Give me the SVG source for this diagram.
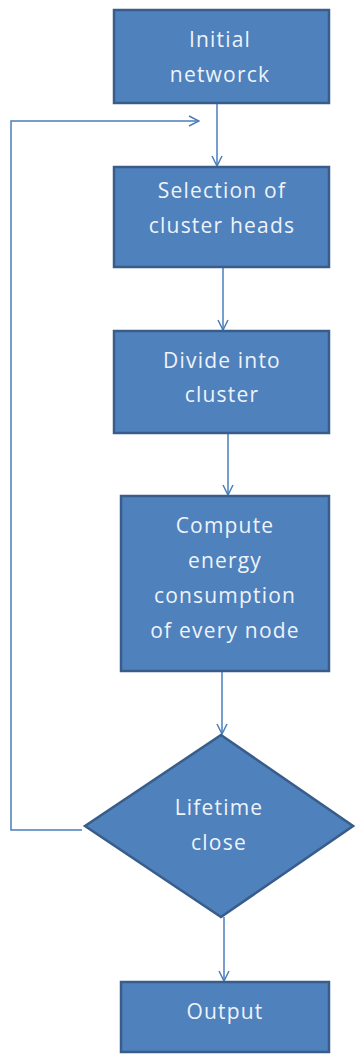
<svg xmlns="http://www.w3.org/2000/svg" width="355" height="1055" viewBox="0 0 355 1055">
<style>
.node{fill:#4F81BD;stroke:#385D8A;stroke-width:2.5}
.lbl{font-family:"Open Sans","Liberation Sans",sans-serif;font-size:21px;fill:#EEF3FA;text-anchor:middle;letter-spacing:1.2px}
.conn{fill:none;stroke:#4A7EBB;stroke-width:1.5}
</style>
<defs>
<marker id="arr" viewBox="0 0 12 12" refX="11" refY="6" markerWidth="12" markerHeight="12" markerUnits="userSpaceOnUse" orient="auto">
<path d="M1,1 L11,6 L1,11" fill="none" stroke="#4A7EBB" stroke-width="1.5"/>
</marker>
</defs>
<g id="connectors">
<line class="conn" x1="217" y1="103" x2="217" y2="166" marker-end="url(#arr)"/>
<line class="conn" x1="223" y1="267" x2="223" y2="330" marker-end="url(#arr)"/>
<line class="conn" x1="228" y1="433" x2="228" y2="495" marker-end="url(#arr)"/>
<line class="conn" x1="222" y1="671" x2="222" y2="734" marker-end="url(#arr)"/>
<line class="conn" x1="224" y1="917" x2="224" y2="981" marker-end="url(#arr)"/>
<polyline class="conn" points="82,830 11,830 11,121 199,121" marker-end="url(#arr)"/>
</g>
<g id="initial">
<rect class="node" x="114" y="10" width="215" height="93"/>
<text class="lbl" x="220" y="47">Initial</text>
<text class="lbl" x="220" y="82">networck</text>
</g>
<g id="selection">
<rect class="node" x="114" y="167" width="215" height="100"/>
<text class="lbl" x="222" y="198">Selection of</text>
<text class="lbl" x="222" y="233">cluster heads</text>
</g>
<g id="divide">
<rect class="node" x="114" y="331" width="215" height="102"/>
<text class="lbl" x="222" y="368">Divide into</text>
<text class="lbl" x="222" y="402">cluster</text>
</g>
<g id="compute">
<rect class="node" x="121" y="496" width="208" height="175"/>
<text class="lbl" x="225" y="533">Compute</text>
<text class="lbl" x="225" y="568">energy</text>
<text class="lbl" x="225" y="603">consumption</text>
<text class="lbl" x="225" y="638">of every node</text>
</g>
<g id="lifetime">
<polygon class="node" points="221,735 353,826 221,917 85,826"/>
<text class="lbl" x="219" y="815">Lifetime</text>
<text class="lbl" x="219" y="850">close</text>
</g>
<g id="output">
<rect class="node" x="121" y="982" width="208" height="70"/>
<text class="lbl" x="225" y="1019">Output</text>
</g>
</svg>
